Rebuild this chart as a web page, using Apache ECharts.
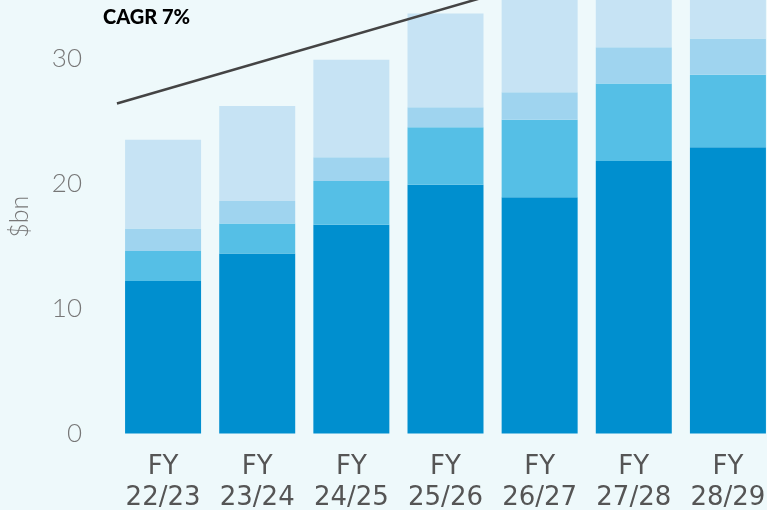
<!DOCTYPE html>
<html>
<head>
<meta charset="utf-8">
<style>
  html, body { margin: 0; padding: 0; background: #eef9fb; }
  #chart { width: 767px; height: 510px; }
</style>
<script src="https://cdn.jsdelivr.net/npm/echarts@6/dist/echarts.min.js"></script>
</head>
<body>
<div id="chart"></div>
<script>
// Financial years on the category axis
const years = ['FY\n22/23', 'FY\n23/24', 'FY\n24/25', 'FY\n25/26', 'FY\n26/27', 'FY\n27/28', 'FY\n28/29'];

// Stacked components, $bn (bottom to top)
const segmentA = [12.2, 14.4, 16.7, 19.9, 18.9, 21.8, 22.9];
const segmentB = [2.4, 2.4, 3.5, 4.6, 6.2, 6.2, 5.8];
const segmentC = [1.8, 1.8, 1.9, 1.6, 2.2, 2.9, 2.9];
const segmentD = [7.1, 7.6, 7.8, 7.5, 8.3, 8.0, 8.2];

// Trend line endpoints: [category position, $bn]
const cagrLine = [[-0.49, 26.4], [3.5, 35.1]];
const cagrLabel = 'CAGR 7%';

const yTicks = [0, 10, 20, 30];

const colors = ['#008fcf', '#55bfe6', '#9fd4ef', '#c6e3f4'];

const chart = echarts.init(document.getElementById('chart'), null, { renderer: 'canvas' });

function barSeries(data, color) {
  return {
    type: 'bar',
    stack: 'total',
    data: data,
    barWidth: 76,
    itemStyle: { color: color },
    emphasis: { disabled: true },
    silent: true
  };
}

chart.setOption({
  backgroundColor: '#eef9fb',
  animation: false,
  grid: {
    left: 116, right: -8, top: 0, bottom: 76.5,
    containLabel: false,
    outerBoundsMode: 'none'
  },
  title: {
    text: cagrLabel,
    left: 103,
    top: 8,
    padding: 0,
    textStyle: { fontFamily: 'Lato', fontWeight: 900, fontSize: 20, color: '#000' }
  },
  xAxis: [
    {
      type: 'category',
      data: years,
      axisLine: { show: false },
      axisTick: { show: false },
      axisLabel: {
        interval: 0,
        margin: 18,
        fontFamily: 'DejaVu Sans',
        fontSize: 26,
        lineHeight: 31,
        color: '#555'
      }
    },
    {
      type: 'value',
      min: -0.5,
      max: 6.5,
      show: false
    }
  ],
  yAxis: {
    type: 'value',
    min: 0,
    max: 34.68,
    interval: 10,
    name: '$bn',
    nameLocation: 'middle',
    nameGap: 84,
    nameTextStyle: { fontFamily: 'Lato', fontWeight: 300, fontSize: 25, color: '#777' },
    splitLine: { show: false },
    axisLine: { show: false },
    axisTick: { show: false },
    axisLabel: {
      margin: 34,
      fontFamily: 'Lato',
      fontWeight: 300,
      fontSize: 26,
      color: '#777',
      formatter: v => (yTicks.indexOf(v) >= 0 ? String(v) : '')
    }
  },
  series: [
    barSeries(segmentA, colors[0]),
    barSeries(segmentB, colors[1]),
    barSeries(segmentC, colors[2]),
    barSeries(segmentD, colors[3]),
    {
      type: 'line',
      xAxisIndex: 1,
      data: cagrLine,
      symbol: 'none',
      silent: true,
      clip: true,
      lineStyle: { color: '#444', width: 2.5 }
    }
  ]
});
</script>
</body>
</html>
